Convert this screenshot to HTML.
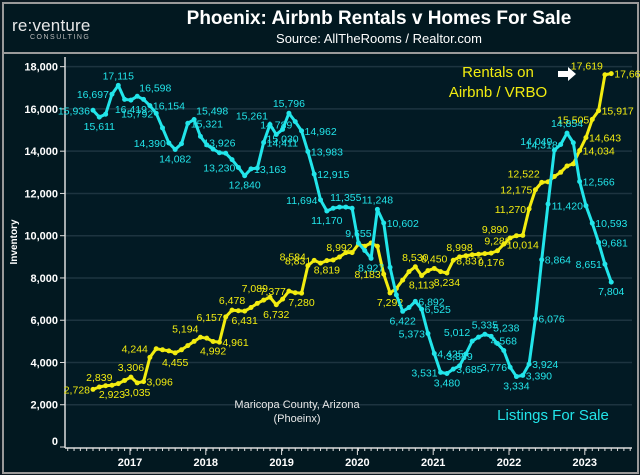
<!DOCTYPE html>
<html><head><meta charset="utf-8"><style>
body{margin:0;background:#0c1a22;width:640px;height:475px;overflow:hidden;font-family:"Liberation Sans",sans-serif}
#frame{position:absolute;left:2px;top:2px;width:633px;height:468px;border:2px solid #9a9a9a;background:#021820}
#hdr{position:absolute;left:0;top:0;width:633px;height:48px;border-bottom:2px solid #9a9a9a;background:#021820}
</style></head><body>
<div id="frame">
<div id="hdr">
<div style="position:absolute;left:8px;top:12px;color:#e8e8e8;font-size:17px;letter-spacing:0.2px">re:venture<div style="font-size:7px;letter-spacing:1.5px;color:#bbb;margin-left:18px;margin-top:-2px">CONSULTING</div></div>
<div style="position:absolute;left:115px;width:520px;top:4px;text-align:center;color:#fff;font-weight:bold;font-size:19px">Phoenix: Airbnb Rentals v Homes For Sale</div>
<div style="position:absolute;left:115px;width:520px;top:27px;text-align:center;color:#fff;font-size:13px">Source: AllTheRooms / Realtor.com</div>
</div></div>
<svg id="c" width="640" height="475" style="position:absolute;left:0;top:0"></svg>
<script>
const yTicks=[0,2000,4000,6000,8000,10000,12000,14000,16000,18000];
const years=[2017,2018,2019,2020,2021,2022,2023];
// month index 0 = Jul 2016
const listingsMonths=[0,1,2,3,4,5,6,7,8,9,10,11,12,13,14,15,16,17,18,19,20,21,22,23,24,25,26,27,28,29,30,31,32,33,34,35,36,37,38,39,40,41,42,43,44,45,46,47,48,49,50,51,52,53,54,55,56,57,58,59,60,61,62,63,64,65,66,67,68,69,70,71,72,73,74,75,76,77,78,79,80,81,82];
const listingsValues=[15936,15611,15750,16697,17115,16450,16419,16598,16450,16154,15792,15100,14390,14082,14350,15321,15498,14700,14300,14100,13926,13900,13600,13230,12840,13163,13200,14411,15261,14789,15030,15796,15400,14962,13983,12915,11694,11170,11300,11355,11355,11300,9655,9300,8927,11248,10602,8500,7200,6422,6600,6892,6525,5373,4425,3531,3480,3685,3839,4400,5012,5200,5335,5238,4900,4568,3776,3334,3390,3924,6076,8864,11500,14049,14318,14854,14400,12566,11420,10593,9681,8651,7804];
const rentalValues=[2728,2839,2900,2923,3000,3150,3306,3035,3096,4244,4650,4600,4550,4455,4600,4800,5000,5194,5150,4992,4961,6157,6478,6450,6431,6600,6800,6950,7089,6732,7000,7377,7300,7280,8584,8831,8700,8819,8850,8992,9200,9200,9600,9500,9655,9500,8183,7292,7500,7900,8300,8530,8113,8350,8450,8300,8234,8837,8998,9050,9100,9120,9150,9176,9288,9600,9890,10000,10014,11270,12175,12522,12550,12800,13000,13300,13400,14034,14643,15505,15917,17619,17669];
// label placement codes (style only): l, r, a, b, al, ar, '' = no label
const listingsLabelPos=['l','b','','l','a','','b','ar','','r','l','','l','b','','r','ar','','','','a','','','l','b','r','','r','al','a','b','a','','r','r','r','l','b','','','a','','a','','b','a','r','','','b','','r','r','l','r','l','b','r','a','','al','','a','ar','','a','l','b','r','r','r','r','','al','l','a','','r','l','r','r','l','b'];
const rentalLabelPos=['l','a','','b','','','a','b','r','al','','','','b','','','','al','','b','r','l','a','','b','','','','al','b','','l','','b','al','l','','b','','a','','','','','','','l','b','','','','a','b','','a','','b','r','a','','','','','b','a','','al','','b','l','l','al','','','','','','r','r','l','r','al','r'];
const svg=document.getElementById('c');const NS='http://www.w3.org/2000/svg';
const X=m=>93+m*6.32; const Y=v=>447-v*0.02113;
const YX=y=>130+(y-2017)*75.8;
function mk(t,a,p){const e=document.createElementNS(NS,t);for(const k in a)e.setAttribute(k,a[k]);(p||svg).appendChild(e);return e;}
const plot=mk('rect',{x:65,y:57,width:567,height:391,fill:'#021a24'});


yTicks.forEach(v=>{
 if(v>0){const g=mk('line',{x1:65,x2:632,y1:Y(v),y2:Y(v),stroke:'#1d3440','stroke-width':1.5});
 
 }
 mk('line',{x1:60,x2:65,y1:Y(v),y2:Y(v),stroke:'#ddd'});
 const t=mk('text',{x:58,y:Y(v)+(v===0?-2:4),'text-anchor':'end',fill:'#fff','font-size':11,'font-weight':'bold'});
 t.textContent=v.toLocaleString('en-US');
 
 
});
mk('line',{x1:65,x2:65,y1:57,y2:448,stroke:'#ddd','stroke-width':1.5});
mk('line',{x1:65,x2:632,y1:448,y2:448,stroke:'#ddd','stroke-width':1.5});
for(let m=-10;m<=86;m++){const x=X(m);if(x>66&&x<632)mk('line',{x1:x,x2:x,y1:448,y2:451,stroke:'#ddd'});}
years.forEach(y=>{mk('line',{x1:YX(y),x2:YX(y),y1:448,y2:455,stroke:'#ddd'});
 const t=mk('text',{x:YX(y),y:466,'text-anchor':'middle',fill:'#fff','font-size':11,'font-weight':'bold'});
 t.textContent=y;
 
 });
const yt=mk('text',{x:0,y:0,transform:'translate(17,242) rotate(-90)','text-anchor':'middle',fill:'#fff','font-size':10,'font-weight':'bold'});
yt.textContent='Inventory';


const OFF={l:[-3,4,'end'],r:[3,4,'start'],a:[0,-6,'middle'],b:[0,13,'middle'],al:[-2,-5,'end'],ar:[2,-5,'start']};
function series(vals,col,name,pos){
 const pts=vals.map((v,i)=>X(listingsMonths[i])+','+Y(v)).join(' ');
 const l=mk('polyline',{points:pts,fill:'none',stroke:col,'stroke-width':3,'stroke-linejoin':'round'});
 
 
 vals.forEach((v,i)=>{const cx=X(listingsMonths[i]),cy=Y(v);
  const c=mk('circle',{cx:cx,cy:cy,r:2.5,fill:col});
  
  
  const o=OFF[pos[i]];
  if(o){const t=mk('text',{x:cx+o[0],y:cy+o[1],'text-anchor':o[2],fill:col,'font-size':10.5});
  t.textContent=v.toLocaleString('en-US');
  
  }});
}
series(rentalValues,'#f2ec10','rentals',rentalLabelPos);
series(listingsValues,'#22e5ea','listings',listingsLabelPos);
function txt(x,y,s,col,fs,name){const t=mk('text',{x:x,y:y,'text-anchor':'middle',fill:col,'font-size':fs});t.textContent=s;
 
 }
txt(498,77,'Rentals on','#f2ec10',15,'rentals-annotation');
txt(498,97,'Airbnb / VRBO','#f2ec10',15,'rentals-annotation-2');
txt(553,420,'Listings For Sale','#22e5ea',15,'listings-annotation');
txt(297,408,'Maricopa County, Arizona','#e8e8e8',11,'region-note');
txt(297,422,'(Phoeinx)','#e8e8e8',11,'region-note-2');
const ar=mk('polygon',{points:'558,71 568,71 568,67 576,74 568,81 568,77 558,77',fill:'#fff'});


</script>
</body></html>
